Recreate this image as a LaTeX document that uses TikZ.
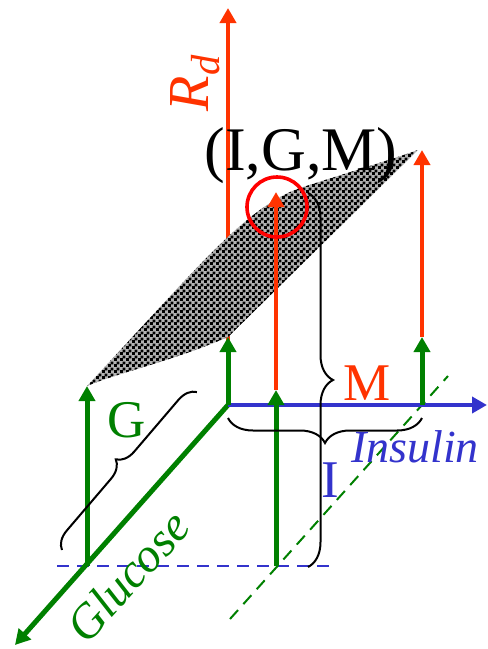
\documentclass[tikz,border=0pt]{standalone}
\usepackage{fontspec}
\setmainfont{Liberation Serif}
\usetikzlibrary{arrows.meta,decorations.pathreplacing,patterns.meta}
\definecolor{rdred}{RGB}{255,51,0}
\definecolor{glgreen}{RGB}{0,128,0}
\definecolor{inblue}{RGB}{51,51,204}
\tikzdeclarepattern{
  name=checks,
  type=uncolored,
  bounding box={(0pt,0pt) and (3pt,3pt)},
  tile size={(3pt,3pt)},
  code={
    \pgfpathrectangle{\pgfpointorigin}{\pgfpoint{1.6pt}{1.6pt}}
    \pgfpathrectangle{\pgfpoint{1.5pt}{1.5pt}}{\pgfpoint{1.6pt}{1.6pt}}
    \pgfusepath{fill}
  }
}
\begin{document}
\begin{tikzpicture}[x=0.5pt,y=-0.5pt,
  tip/.style={-{Triangle[length=7.5pt,width=8pt]}},
  garrow/.style={tip,line width=2.5pt,glgreen},
  rarrow/.style={tip,line width=2.2pt,rdred},
  brc/.style={decorate,decoration={brace,amplitude=#1},line width=1pt},
  brc/.default=12pt,
  big/.style={font=\fontsize{26.5}{30}\selectfont}]
  \useasboundingbox (0,0) rectangle (488,649);
  % points
  \coordinate (O) at (228,405);
  \coordinate (Gax) at (15,645);
  \coordinate (Iax) at (487,405);
  \coordinate (Rax) at (228,8);
  \coordinate (g0) at (87,566);
  \coordinate (g1) at (87,386);
  \coordinate (o1) at (228,337);
  \coordinate (i0) at (422,405);
  \coordinate (i1) at (422,337);
  \coordinate (i2) at (422,150);
  \coordinate (p0) at (276,566);
  \coordinate (p1) at (276,390);
  \coordinate (p2) at (276,192);
  % R_d axis (behind the surface)
  \draw[rarrow] (O) -- (Rax);
  % surface
  \fill[black!30,postaction={pattern=checks}] (g1) .. controls (200,265) and (245,208) .. (300,188)
        .. controls (350,172) and (390,160) .. (418,150)
        -- (o1) .. controls (170,362) and (120,372) .. (g1) -- cycle;
  % dashed guides
  \coordinate (b0) at (57,566);
  \coordinate (b1) at (330,566);
  \coordinate (d0) at (230,619);
  \coordinate (d1) at (448,376);
  \draw[inblue,line width=1.3pt,dash pattern=on 6pt off 4pt] (b0) -- (b1);
  \draw[glgreen,line width=1pt,dash pattern=on 6pt off 4pt] (d0) -- (d1);
  % axes
  \draw[garrow] (O) -- (Gax);
  \draw[tip,line width=2pt,inblue] (O) -- (Iax);
  % heights
  \draw[garrow] (g0) -- (g1);
  \draw[garrow] (O) -- (o1);
  \draw[garrow] (i0) -- (i1);
  \draw[garrow] (p0) -- (p1);
  \draw[rarrow] (p1) -- (p2);
  \draw[rarrow] (i1) -- (i2);
  % point on the surface
  \node[draw=red,line width=1.8pt,circle,minimum size=30pt,inner sep=0pt] (hit) at (277,207) {};
  % braces
  \coordinate (gb0) at (62,550);
  \coordinate (gb1) at (197,392);
  \coordinate (mb0) at (308,193);
  \coordinate (mb1) at (308,567);
  \coordinate (ib0) at (422,418);
  \coordinate (ib1) at (228,418);
  \draw[brc=9pt] (gb0) -- (gb1);
  \draw[brc=12.5pt] (mb0) -- (mb1);
  \draw[brc=12.5pt] (ib0) -- (ib1);
  % labels
  \node[font=\fontsize{31}{36}\selectfont,anchor=base] (igm) at (301,170) {(I,G,M)};
  \node[big,glgreen,anchor=base] (glab) at (127,437) {G};
  \node[big,rdred,anchor=base] (mlab) at (367,400) {M};
  \node[big,inblue,anchor=base] (ilab) at (330,497) {I};
  \node[rdred,rotate=90,font=\fontsize{29}{34}\selectfont] (rd) at (195,83) {\textit{R}\textsubscript{\textit{d}}};
  \node[inblue,anchor=base,font=\fontsize{23}{28}\selectfont\itshape] (ins) at (415,462) {Insulin};
  \node[glgreen,rotate=48,font=\fontsize{24}{28}\selectfont\itshape] (glu) at (128,576) {Glucose};
\end{tikzpicture}
\end{document}
